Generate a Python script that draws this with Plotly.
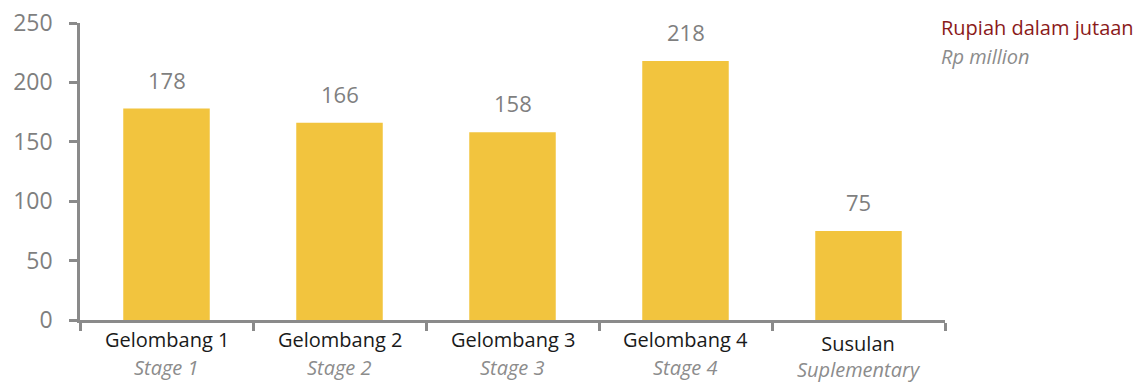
import plotly.graph_objects as go

categories = ["Gelombang 1", "Gelombang 2", "Gelombang 3", "Gelombang 4", "Susulan"]
subtitles = ["Stage 1", "Stage 2", "Stage 3", "Stage 4", "Suplementary"]
values = [178, 166, 158, 218, 75]
y_ticks = [0, 50, 100, 150, 200, 250]

FONT = "Open Sans"
AXIS = "#8A8A8A"
GRAY = "#7F7F7F"

W, H = 1142, 383
ML, MR, MT, MB = 80, 197, 23, 63
pw, ph = W - ML - MR, H - MT - MB

fig = go.Figure()
fig.add_trace(go.Bar(
    x=categories, y=values,
    marker=dict(color="#F2C43E", line=dict(width=0)),
    hoverinfo="skip",
))

annotations = []
for c, v in zip(categories, values):
    annotations.append(dict(x=c, y=v, xref="x", yref="y", text=str(v), showarrow=False,
                            yanchor="bottom", yshift=12,
                            font=dict(family=FONT, size=22, color=GRAY)))
last = len(categories) - 1
for i, (c, s) in enumerate(zip(categories, subtitles)):
    if i == last:
        annotations.append(dict(x=c, y=0, xref="x", yref="y",
                                text=c + "<br><span style='color:#8C8C8C'><i>" + s + "</i></span>",
                                showarrow=False, yanchor="middle", yshift=-36, borderpad=0,
                                font=dict(family=FONT, size=20, color="#1A1A1A")))
        continue
    annotations.append(dict(x=c, y=0, xref="x", yref="y", text=c, showarrow=False,
                            yanchor="middle", yshift=-19,
                            font=dict(family=FONT, size=20, color="#1A1A1A")))
    annotations.append(dict(x=c, y=0, xref="x", yref="y", text="<i>" + s + "</i>", showarrow=False,
                            yanchor="middle", yshift=-47,
                            font=dict(family=FONT, size=20, color="#8C8C8C")))
for txt, py, col in [("Rupiah dalam jutaan", 27, "#8B1A1A"), ("<i>Rp million</i>", 56, "#8C8C8C")]:
    annotations.append(dict(x=(939 - ML) / pw, y=(H - MB - py) / ph, xref="paper", yref="paper",
                            text=txt, showarrow=False, xanchor="left", yanchor="middle",
                            font=dict(family=FONT, size=20, color=col)))

fig.update_layout(
    width=W, height=H,
    margin=dict(l=ML, r=MR, t=MT, b=MB, autoexpand=False),
    paper_bgcolor="white", plot_bgcolor="white",
    bargap=0.5,
    showlegend=False,
    annotations=annotations,
    xaxis=dict(
        type="category", automargin=False,
        showline=True, linecolor=AXIS, linewidth=2.5,
        ticks="outside", tickson="boundaries", ticklen=8, tickwidth=2.5, tickcolor=AXIS,
        showticklabels=False, showgrid=False, zeroline=False,
        range=[-0.5, 4.5],
    ),
    yaxis=dict(
        range=[0, 250], tickvals=y_ticks, automargin=False,
        showline=True, linecolor=AXIS, linewidth=2.5,
        ticks="outside", ticklen=8, tickwidth=2.5, tickcolor=AXIS,
        ticklabelstandoff=12,
        tickfont=dict(family=FONT, size=23, color=GRAY),
        showgrid=False, zeroline=False,
    ),
)

fig.write_html("out.html")
